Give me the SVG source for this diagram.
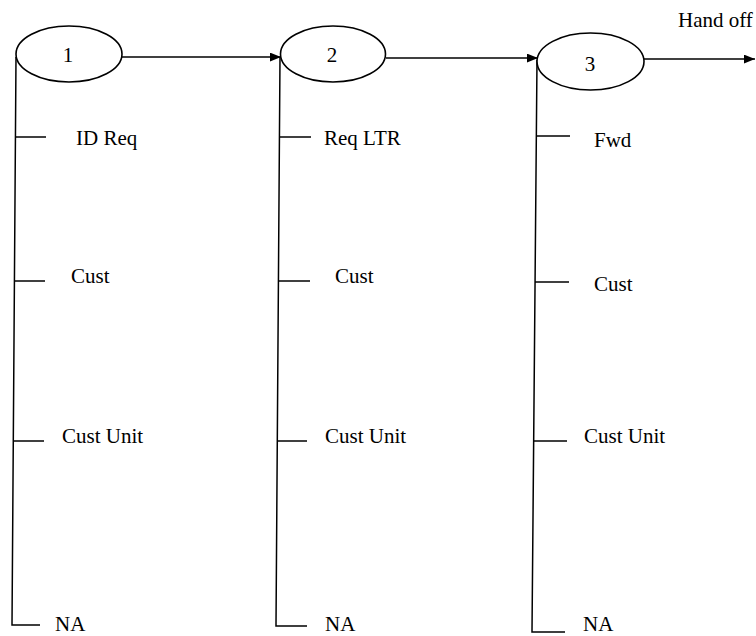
<svg xmlns="http://www.w3.org/2000/svg" width="756" height="636" viewBox="0 0 756 636">
<style>
.ln{stroke:#000;stroke-width:1.5;fill:none}
.el{stroke:#000;stroke-width:1.6;fill:#fff}
.t{font-family:"Liberation Serif","Times New Roman",serif;font-size:21px;fill:#000}
.n{font-family:"Liberation Serif","Times New Roman",serif;font-size:21px;fill:#000;text-anchor:middle}
</style>
<defs>
<marker id="ah" viewBox="0 0 10 8" refX="10" refY="4" markerWidth="11" markerHeight="9" markerUnits="userSpaceOnUse" orient="auto">
<path d="M0,0 L10,4 L0,8 Z" fill="#000"/>
</marker>
</defs>
<rect width="756" height="636" fill="#fff"/>
<g id="connectors">
<line class="ln" x1="122" y1="57" x2="281" y2="57" marker-end="url(#ah)"/>
<line class="ln" x1="386" y1="58" x2="538" y2="58" marker-end="url(#ah)"/>
<line class="ln" x1="644" y1="59" x2="755" y2="59" marker-end="url(#ah)"/>
</g>
<g id="node1">
<path class="ln" d="M16,57 L12,625 L40,625"/>
<line class="ln" x1="15" y1="137" x2="46" y2="137"/>
<line class="ln" x1="14" y1="281" x2="45" y2="281"/>
<line class="ln" x1="13" y1="441" x2="44" y2="441"/>
<ellipse class="el" cx="69" cy="54" rx="53" ry="28"/>
<text class="n" x="68" y="62">1</text>
<text class="t" x="76" y="145">ID Req</text>
<text class="t" x="71" y="283">Cust</text>
<text class="t" x="62" y="443">Cust Unit</text>
<text class="t" x="55" y="631">NA</text>
</g>
<g id="node2">
<path class="ln" d="M280,57 L276,626 L307,626"/>
<line class="ln" x1="280" y1="137" x2="311" y2="137"/>
<line class="ln" x1="278" y1="281" x2="310" y2="281"/>
<line class="ln" x1="277" y1="441" x2="307" y2="441"/>
<ellipse class="el" cx="333" cy="54" rx="52.5" ry="28"/>
<text class="n" x="332" y="62">2</text>
<text class="t" x="324" y="145">Req LTR</text>
<text class="t" x="335" y="283">Cust</text>
<text class="t" x="325" y="443">Cust Unit</text>
<text class="t" x="325" y="631">NA</text>
</g>
<g id="node3">
<path class="ln" d="M537,60 L532,632 L565,632"/>
<line class="ln" x1="537" y1="136" x2="570" y2="136"/>
<line class="ln" x1="535" y1="282" x2="569" y2="282"/>
<line class="ln" x1="534" y1="441" x2="567" y2="441"/>
<ellipse class="el" cx="590.5" cy="61.5" rx="53.5" ry="28.5"/>
<text class="n" x="590" y="71">3</text>
<text class="t" x="594" y="147">Fwd</text>
<text class="t" x="594" y="291">Cust</text>
<text class="t" x="584" y="443">Cust Unit</text>
<text class="t" x="583" y="631">NA</text>
<text class="t" x="678" y="27">Hand off</text>
</g>
</svg>
